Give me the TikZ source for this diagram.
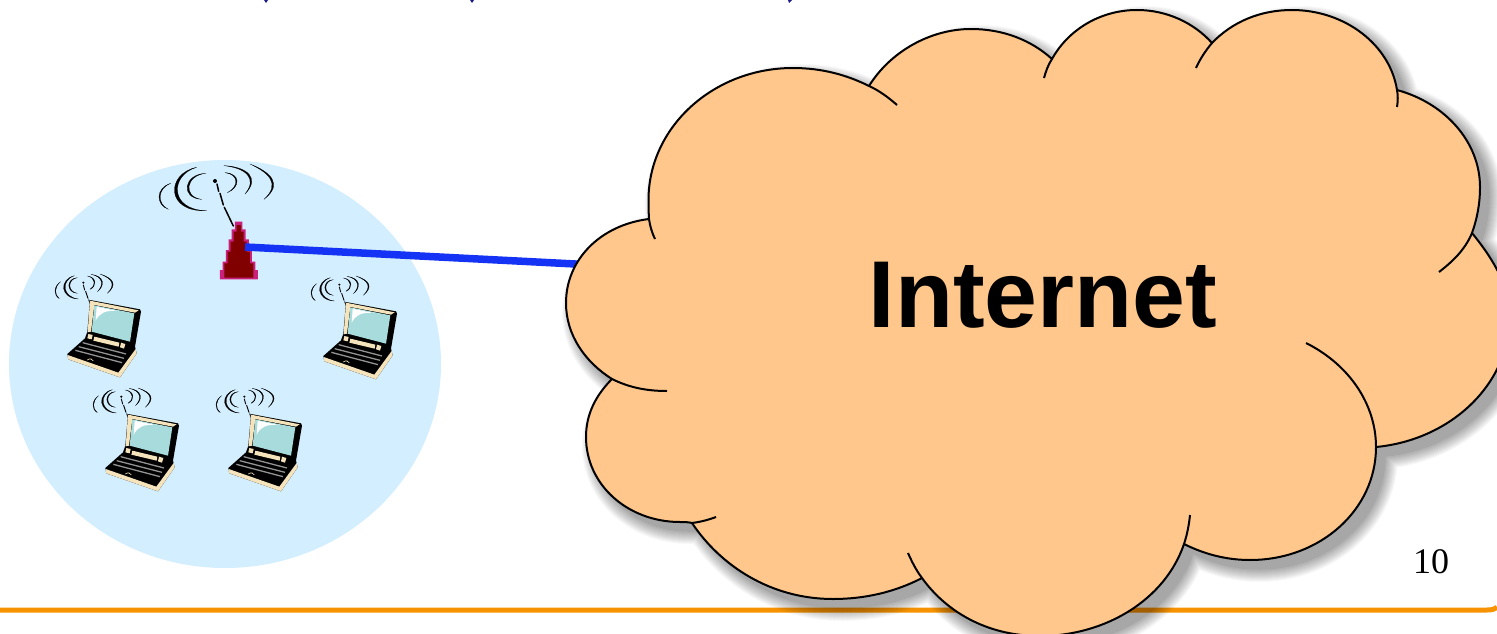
\documentclass[tikz,border=0pt]{standalone}
\usepackage{fontspec}
\usetikzlibrary{calc}
\setmainfont{Liberation Serif}
\newfontfamily\inetfont{Liberation Sans}
\definecolor{cellblue}{HTML}{D3EEFE}
\definecolor{cloudfill}{HTML}{FFC78C}
\definecolor{linkblue}{HTML}{1433F5}
\definecolor{rulecol}{HTML}{F79300}
\definecolor{towerdark}{HTML}{800000}
\definecolor{towermag}{HTML}{C9207E}
\definecolor{cream}{HTML}{F5E3BC}
\definecolor{screencol}{HTML}{A8DCDC}
\definecolor{navymark}{HTML}{1A1A8C}
\def\cloudOutline{(649,219) .. controls (648.6,212) and (648.5,206) .. (648.5,200)
 .. controls (648.5,127) and (713.5,68) .. (793,68)
 .. controls (822,68) and (847,75) .. (869,86)
 .. controls (890,52) and (930,29) .. (971,29)
 .. controls (1003,29) and (1031,40) .. (1052,59)
 .. controls (1068,30) and (1100,10) .. (1137,10)
 .. controls (1167,10) and (1194,23) .. (1212,43)
 .. controls (1232,22) and (1260,10) .. (1292,10)
 .. controls (1345,10) and (1390,45) .. (1397,90)
 .. controls (1445,103) and (1480,142) .. (1480,187)
 .. controls (1480,204) and (1477,219) .. (1472,233)
 .. controls (1490,255) and (1510,285) .. (1510,315)
 .. controls (1510,385) and (1450,440) .. (1376,447)
 .. controls (1376,510) and (1320,560) .. (1250,560)
 .. controls (1226,560) and (1204,554) .. (1184,544)
 .. controls (1165,600) and (1105,636) .. (1040,636)
 .. controls (985,636) and (945,610) .. (922,578)
 .. controls (895,592) and (865,599) .. (833,599)
 .. controls (770,599) and (720,565) .. (692,523)
 .. controls (688,522) and (684,522) .. (680,522)
 .. controls (628,522) and (586,485) .. (586,437)
 .. controls (586,414) and (596,395) .. (612,379)
 .. controls (585,362) and (566,335) .. (566,303)
 .. controls (566,260) and (600,225) .. (649,219) -- cycle}
% a stroke that tapers to nothing at both ends
\def\taperfrac{.88}
\newcommand\tapered[4]{\path[fill=black,draw=black,line width=.2pt,line join=round]
  #1 .. controls #2 and #3 .. #4
  .. controls ($($#1!.5!#4$)!\taperfrac!#3$) and ($($#1!.5!#4$)!\taperfrac!#2$) .. #1 -- cycle;}
\tikzset{
  x=1pt,y=-1pt,
  wave/.style={line cap=round,line width=#1,draw=black},
  cloudline/.style={draw=black,line width=2pt},
  pics/laptop/.style={code={
    \begin{scope}[scale=1/3]
    \def\taperfrac{.88}
    \tapered{(112,383)}{(78,385)}{(78,428)}{(112,430)}
    \tapered{(103,377)}{(55,390)}{(62,445)}{(115,447)}
    \tapered{(62,395)}{(40,410)}{(40,435)}{(58,446)}
    \tapered{(142,378)}{(172,382)}{(170,410)}{(150,418)}
    \tapered{(153,373)}{(195,378)}{(195,408)}{(172,425)}
    \tapered{(180,372)}{(222,385)}{(232,405)}{(202,430)}
    \begin{scope}[wave=.9pt]
      \draw (130,405) -- (134,420);
      \draw (137,424) -- (144,445);
      \draw (146,449) -- (154,468);
    \end{scope}
    \fill (130,398) circle (3.5);
    % body
    \fill[black] (150,450) -- (300,478) -- (303,485) -- (285,590) -- (290,610) -- (240,682)
       -- (85,628) -- (82,612) -- (135,565) -- (142,545) -- cycle;
    \fill[cream] (150,452) -- (296,481) -- (285,488) -- (163,465) -- (153,545) -- (143,547) -- cycle;
    \fill[screencol] (163,466) -- (283,490) -- (270,575) -- (155,545) -- cycle;
    \fill[white] (170,470) -- (232,483) .. controls (195,480) and (178,490) .. (167,512) -- cycle;
    \fill[cream] (145,552) -- (158,555) -- (155,568) -- (142,565) -- cycle;
    \fill[cream] (243,578) -- (256,582) -- (252,596) -- (240,592) -- cycle;
    \fill[cream] (163,560) -- (238,578) -- (236,590) -- (160,572) -- cycle;
    \draw[gray!85!white,line width=1.3pt] (128,578) -- (258,612)
       (116,590) -- (252,625) (106,601) -- (246,638);
    \fill[cream] (83,615) -- (235,668) -- (287,597) -- (290,610) -- (240,682) -- (85,628) -- cycle;
    \draw[cream,line width=.6pt] (142,630) .. controls (150,623) and (158,628) .. (160,633);
    \end{scope}
  }}
}
\begin{document}
\begin{tikzpicture}
\useasboundingbox (0,0) rectangle (1497,634);
\clip (0,0) rectangle (1497,634);
\fill[white] (0,0) rectangle (1497,634);
% clipped marks at the top edge
\fill[navymark] (264,0) -- (268,0) -- (266,3) -- cycle;
\fill[navymark] (470,0) -- (474,0) -- (472,3) -- cycle;
\fill[navymark] (788,0) -- (792,0) -- (789,3) -- cycle;
% rule
\draw[rulecol,line width=5pt] (0,610) -- (1487,610) .. controls (1492,610) and (1495,609) .. (1497,607.5);
% cell
\fill[cellblue] (225,364) ellipse [x radius=216, y radius=204];
% tower
\begin{scope}[shift={(40,150)},scale=1/3]
  \def\taperfrac{.89}
  \tapered{(498,70)}{(430,72)}{(420,145)}{(485,148)}
  \tapered{(470,52)}{(378,70)}{(375,188)}{(500,182)}
  \tapered{(392,100)}{(345,115)}{(348,165)}{(385,178)}
  \tapered{(555,68)}{(602,70)}{(602,112)}{(562,128)}
  \tapered{(552,47)}{(622,50)}{(662,85)}{(615,132)}
  \tapered{(630,42)}{(690,65)}{(732,102)}{(672,148)}
  \begin{scope}[wave=1.5pt]
    \draw (531,102) -- (536,124);
    \draw (540,130) -- (550,165);
    \draw (553,172) -- (580,228);
  \end{scope}
  \fill (525,93) circle (6);
  \fill[towermag] (585,215) -- (607,215) -- (607,238) -- (617,238) -- (617,268) -- (627,268)
    -- (627,300) -- (636,300) -- (636,335) -- (646,335) -- (646,360) -- (654,360) -- (654,388)
    -- (540,388) -- (540,360) -- (548,360) -- (548,335) -- (558,335) -- (558,300) -- (566,300)
    -- (566,268) -- (575,268) -- (575,238) -- (585,238) -- cycle;
  \fill[towerdark] (590,225) -- (603,225) -- (603,245) -- (611,245) -- (611,275) -- (620,275)
    -- (620,305) -- (630,305) -- (630,340) -- (640,340) -- (640,383) -- (553,383) -- (553,340)
    -- (563,340) -- (563,305) -- (572,305) -- (572,275) -- (581,275) -- (581,245) -- (590,245) -- cycle;
\end{scope}
\coordinate (ap) at (245,247);
\coordinate (cloudport) at (585,264.5);
\draw[linkblue,line width=7.5pt] (ap) -- (cloudport);
% laptops
\pic at (40,150) {laptop};
\pic at (296,152) {laptop};
\pic at (78,264) {laptop};
\pic at (201,264) {laptop};
% cloud shadow: nested dilations, each its own transparency group
\foreach \w in {0,2,...,26}{
  \begin{scope}[transparency group,opacity=.026,shift={(9,9)}]
    \path[fill=black,draw=black,line width=\w pt,line join=round] \cloudOutline;
  \end{scope}
}
% cloud
\fill[cloudfill] \cloudOutline;
\draw[cloudline,line join=round] \cloudOutline;
\draw[cloudline]
  (869,86) .. controls (880,91) and (889,98) .. (897,105)
  (649,219) .. controls (650,226) and (652,233) .. (655,239)
  (1052,59) .. controls (1048,65) and (1046,71) .. (1044,78)
  (1212,43) .. controls (1206,50) and (1200,59) .. (1196,68)
  (1397,90) .. controls (1398,95) and (1398,101) .. (1397,107)
  (1472,233) .. controls (1465,250) and (1452,262) .. (1439,272)
  (1376,447) .. controls (1376,405) and (1350,365) .. (1306,343)
  (1184,544) .. controls (1187,535) and (1189,525) .. (1190,515)
  (922,578) .. controls (916,570) and (912,562) .. (908,553)
  (692,523) .. controls (700,522) and (708,520) .. (716,517)
  (612,379) .. controls (630,388) and (648,391) .. (667,391);
\node[anchor=base,inner sep=0pt] (inet) at (1043,327) {\inetfont\bfseries\fontsize{95}{95}\selectfont Internet};
\node[anchor=base,inner sep=0pt] (pageno) at (1431,573) {\fontsize{36}{36}\selectfont 10};
\end{tikzpicture}
\end{document}
